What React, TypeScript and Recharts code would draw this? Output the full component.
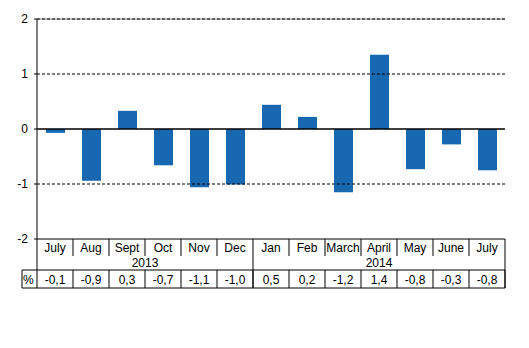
import { BarChart, Bar, XAxis, YAxis, ReferenceLine } from 'recharts'

const months = ['July', 'Aug', 'Sept', 'Oct', 'Nov', 'Dec', 'Jan', 'Feb', 'March', 'April', 'May', 'June', 'July']
const years = ['2013', '2013', '2013', '2013', '2013', '2013', '2014', '2014', '2014', '2014', '2014', '2014', '2014']
const changes = [-0.07, -0.94, 0.33, -0.66, -1.06, -1.01, 0.44, 0.22, -1.15, 1.35, -0.73, -0.28, -0.75]
const pctLabels = ['-0,1', '-0,9', '0,3', '-0,7', '-1,1', '-1,0', '0,5', '0,2', '-1,2', '1,4', '-0,8', '-0,3', '-0,8']
const yTicks = [-2, -1, 0, 1, 2]

const W = 529
const H = 348
const LEFT = 37
const RIGHT = 24
const TOP = 19
const AXIS_H = 109
const BAND = (W - LEFT - RIGHT) / months.length
const FONT = 'Arial, "Liberation Sans", sans-serif'

const data = months.map((m, i) => ({ key: `${m}-${years[i]}`, month: m, year: years[i], value: changes[i], pct: pctLabels[i] }))

// the little table under the plot: month row, year row, % row
function TableTick(props: any) {
  const { x, y, index } = props
  const row = data[index]
  if (!row) return null
  const l = x - BAND / 2
  const r = x + BAND / 2
  const last = index === data.length - 1
  const yearEnd = last || data[index + 1].year !== row.year
  const yearStart = index === 0 || data[index - 1].year !== row.year
  const yearLine = y + 31
  const pctBottom = y + 49
  let yearLabel = null
  if (yearStart) {
    const count = data.filter((d) => d.year === row.year).length
    yearLabel = (
      <text x={l + (count * BAND) / 2} y={y + 28} textAnchor="middle" fontSize={12} fill="#000" fontFamily={FONT}>
        {row.year}
      </text>
    )
  }
  return (
    <g>
      <text x={x} y={y + 13} textAnchor="middle" fontSize={12} fill="#000" fontFamily={FONT}>
        {row.month}
      </text>
      {yearLabel}
      <line x1={r} x2={r} y1={y} y2={yearEnd ? pctBottom : y + 17} stroke="#000" />
      {index === 0 ? <line x1={l} x2={l} y1={y} y2={pctBottom} stroke="#000" /> : null}
      {index === 0 ? (
        <g>
          <line x1={l - 15} x2={l - 15} y1={yearLine} y2={pctBottom} stroke="#000" />
          <line x1={l - 15} x2={l} y1={yearLine} y2={yearLine} stroke="#000" />
          <line x1={l - 15} x2={l} y1={pctBottom} y2={pctBottom} stroke="#000" />
          <text x={l - 14} y={yearLine + 14} fontSize={12} fill="#000" fontFamily={FONT}>%</text>
        </g>
      ) : null}
      <line x1={l} x2={r} y1={yearLine} y2={yearLine} stroke="#000" />
      <line x1={l} x2={r} y1={pctBottom} y2={pctBottom} stroke="#000" />
      <line x1={r} x2={r} y1={yearLine} y2={pctBottom} stroke="#000" />
      <text x={x} y={yearLine + 14} textAnchor="middle" fontSize={12} fill="#000" fontFamily={FONT}>
        {row.pct}
      </text>
    </g>
  )
}

export default function App() {
  return (
    <div style={{ position: 'absolute', left: 0, top: 0, background: '#fff' }}>
      <BarChart width={W} height={H} data={data} margin={{ top: TOP, right: RIGHT, bottom: 0, left: 0 }}>
        <XAxis
          dataKey="key"
          height={AXIS_H}
          tickLine={false}
          tickSize={0}
          tickMargin={0}
          interval={0}
          axisLine={{ stroke: '#000' }}
          tick={<TableTick />}
        />
        <YAxis
          yAxisId="left"
          width={LEFT}
          domain={[-2, 2]}
          ticks={yTicks}
          tickSize={3}
          tickMargin={6}
          axisLine={{ stroke: '#000' }}
          tickLine={{ stroke: '#000' }}
          tick={{ fontSize: 12, fill: '#000', fontFamily: FONT }}
        />
        <YAxis yAxisId="right" orientation="right" width={0} domain={[-2, 2]} tick={false} tickLine={false} axisLine={{ stroke: '#888' }} />
        <ReferenceLine yAxisId="left" y={2} stroke="#888" />
        <ReferenceLine yAxisId="left" y={2} stroke="#000" strokeDasharray="3 2" />
        <ReferenceLine yAxisId="left" y={1} stroke="#000" strokeDasharray="3 2" />
        <ReferenceLine yAxisId="left" y={-1} stroke="#000" strokeDasharray="3 2" />
        <Bar yAxisId="left" dataKey="value" fill="#1767b1" barSize={19} isAnimationActive={false} />
        <ReferenceLine yAxisId="left" y={0} stroke="#000" strokeWidth={1.5} />
      </BarChart>
    </div>
  )
}
